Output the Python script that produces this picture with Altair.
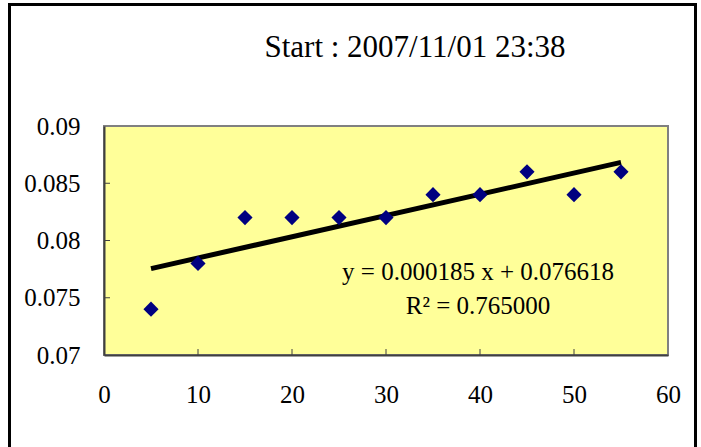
import altair as alt
import pandas as pd

# Data
x_vals = [5, 10, 15, 20, 25, 30, 35, 40, 45, 50, 55]
y_vals = [0.074, 0.078, 0.082, 0.082, 0.082, 0.082, 0.084, 0.084, 0.086, 0.084, 0.086]
x_ticks = [0, 10, 20, 30, 40, 50, 60]
y_ticks = [0.07, 0.075, 0.08, 0.085, 0.09]
title_text = "Start : 2007/11/01 23:38"
eq_line1 = "y = 0.000185 x + 0.076618"
eq_line2 = "R\u00b2 = 0.765000"

FONT = "Liberation Serif"
W, H = 564, 229

df = pd.DataFrame({"x": x_vals, "y": y_vals})

xscale = alt.Scale(domain=[0, 60], nice=False, zero=False)
yscale = alt.Scale(domain=[0.07, 0.09], nice=False, zero=False)

xaxis = alt.Axis(values=x_ticks, title=None, grid=False, ticks=False,
                 labelPadding=27, labelBaseline="top", labelFont=FONT,
                 labelFontSize=25)
yaxis = alt.Axis(values=y_ticks, title=None, grid=False, ticks=False,
                 labelPadding=24, format="~g", labelFont=FONT, labelFontSize=25)

points = alt.Chart(df).mark_point(shape="diamond", filled=True, color="#000080",
                                  size=230, opacity=1).encode(
    x=alt.X("x:Q", scale=xscale, axis=xaxis),
    y=alt.Y("y:Q", scale=yscale, axis=yaxis),
)

trend = alt.Chart(df).transform_regression("x", "y").mark_line(
    color="#000000", strokeWidth=5).encode(
    x=alt.X("x:Q", scale=xscale, axis=xaxis),
    y=alt.Y("y:Q", scale=yscale, axis=yaxis),
)

xt = alt.Chart(pd.DataFrame({"v": x_ticks[1:-1]})).mark_rule(
    color="#404040", strokeWidth=1).encode(
    x=alt.X("v:Q", scale=xscale, axis=xaxis),
    y=alt.value(H), y2=alt.value(H - 6))

yt = alt.Chart(pd.DataFrame({"v": y_ticks[1:-1]})).mark_rule(
    color="#404040", strokeWidth=1).encode(
    y=alt.Y("v:Q", scale=yscale, axis=yaxis),
    x=alt.value(0), x2=alt.value(6))

title = alt.Chart(pd.DataFrame({"t": [title_text]})).mark_text(
    font=FONT, fontSize=31, color="#000000", align="center",
    baseline="alphabetic").encode(
    text="t:N", x=alt.value(311), y=alt.value(-69))

eq1 = alt.Chart(pd.DataFrame({"t": [eq_line1]})).mark_text(
    font=FONT, fontSize=25, color="#000000", align="center",
    baseline="alphabetic").encode(
    text="t:N", x=alt.value(374), y=alt.value(154))

eq2 = alt.Chart(pd.DataFrame({"t": [eq_line2]})).mark_text(
    font=FONT, fontSize=25, color="#000000", align="center",
    baseline="alphabetic").encode(
    text="t:N", x=alt.value(374), y=alt.value(188))

border = alt.Chart(pd.DataFrame({"a": [0]})).mark_rect(
    fillOpacity=0, stroke="#000000", strokeWidth=3).encode(
    x=alt.value(-94.5), x2=alt.value(591.5), y=alt.value(-121.5), y2=alt.value(420))

chart = alt.layer(trend, points, xt, yt, title, eq1, eq2, border).properties(
    width=W, height=H,
    autosize=alt.AutoSizeParams(type="none"),
    padding={"left": 104, "top": 126, "right": 33, "bottom": 92},
    background="#FFFFFF",
).configure(
    font=FONT
).configure_view(
    fill="#FFFF99", stroke="#808080", strokeWidth=2
).configure_axis(
    labelFont=FONT, labelFontSize=25, labelColor="#000000",
    domainColor="#404040", domainWidth=2, labelFlush=False, grid=False
)

chart.save("out.html", embed_options={"renderer": "svg", "actions": False})
